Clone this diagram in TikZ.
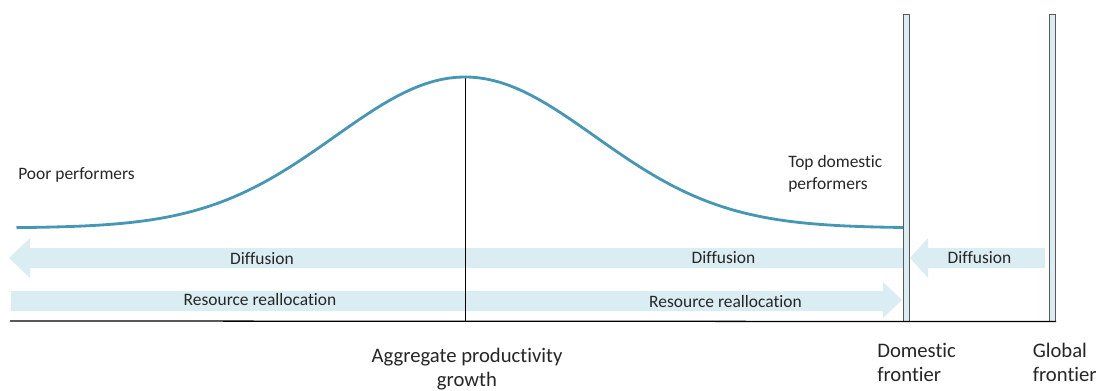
\documentclass[tikz,border=0pt]{standalone}
\usepackage{fontspec}
\setmainfont{Carlito}[Ligatures=NoCommon]
\usepackage{tikz}

\definecolor{curveblue}{HTML}{4696B5}
\definecolor{flowblue}{HTML}{DAEDF3}
\definecolor{barline}{HTML}{595959}
\definecolor{textgray}{HTML}{262626}

\begin{document}
\begin{tikzpicture}[x=0.025cm,y=-0.025cm,
    flow/.style={fill=flowblue},
    bar/.style={rectangle,draw=barline,line width=0.7pt,fill=flowblue,inner sep=0pt,minimum width=0.15cm,minimum height=7.65cm},
    lbl/.style={text=textgray,font=\fontsize{12.4}{15.6}\selectfont,inner sep=0pt},
    big/.style={text=textgray,font=\fontsize{14.7}{17}\selectfont,inner sep=0pt}]
\useasboundingbox (0,0) rectangle (1097,390);
\fill [flow] (903,248) -- (30,248) -- (30,238) -- (9,258) -- (30,278) -- (30,268) -- (903,268) -- cycle;
\fill [flow] (1045,248) -- (928,248) -- (928,238) -- (910,258) -- (928,278) -- (928,268) -- (1045,268) -- cycle;
\fill [flow] (11,291) -- (883,291) -- (883,282) -- (902,300) -- (883,318) -- (883,311) -- (11,311) -- cycle;
\node (domestic) at (906,168) [bar] {};
\node (global) at (1052.5,168) [bar] {};
\coordinate (origin) at (10,321);
\coordinate (peak) at (465,77);
\draw [line width=0.9pt] (origin) -- (global.south east);
\draw [line width=0.7pt] (peak) -- (peak |- origin);
\draw [curveblue,line width=2pt] plot [domain=-3.45:3.37,samples=120] ({465+130*\x},{228-151*exp(-\x*\x/2)});
\node (poor) at (18,179) [lbl,anchor=base west] {Poor performers};
\node (top) at (788,189) [lbl,anchor=base west,align=left] {Top domestic\\performers};
\node (diff1) at (262,264) [lbl,anchor=base] {Diffusion};
\node (diff2) at (723.5,263) [lbl,anchor=base] {Diffusion};
\node (diff3) at (979.5,263) [lbl,anchor=base] {Diffusion};
\node (realloc1) at (260,305) [lbl,anchor=base] {Resource reallocation};
\node (realloc2) at (725.5,307) [lbl,anchor=base] {Resource reallocation};
\node (aggr) at (467,386) [big,anchor=base,align=center] {Aggregate productivity\\growth};
\node (domlbl) at (877,381) [big,anchor=base west,align=left] {Domestic\\frontier};
\node (globlbl) at (1032.5,381) [big,anchor=base west,align=left] {Global\\frontier};
\end{tikzpicture}
\end{document}
